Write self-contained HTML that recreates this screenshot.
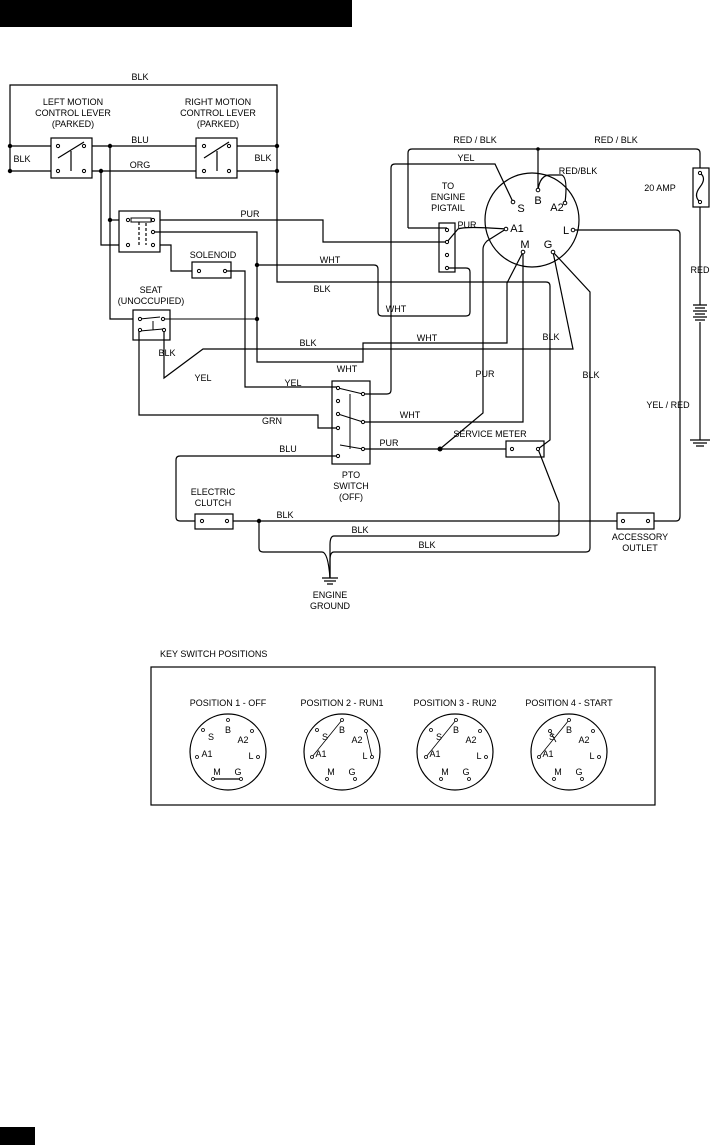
<!DOCTYPE html>
<html><head><meta charset="utf-8"><style>
html,body{margin:0;padding:0;background:#fff}
svg{display:block}
text{font-family:"Liberation Sans",Arial,sans-serif;font-size:9px;fill:#000}
</style></head><body>
<svg width="710" height="1145" viewBox="0 0 710 1145" xmlns="http://www.w3.org/2000/svg">
<rect x="0" y="0" width="352" height="27" fill="#000"/>
<rect x="0" y="1127" width="35" height="18" fill="#000"/>
<g fill="none" stroke="#000" stroke-width="1.2">
<!-- top loop -->
<path d="M10 171 V85 H277 V171"/>
<path d="M10 146 H51 M92 146 H196 M237 146 H277"/>
<path d="M10 171 H51 M92 171 H196 M237 171 H277"/>
<rect x="51" y="138" width="41" height="40"/>
<rect x="196" y="138" width="41" height="40"/>
<path d="M58 158 L84 142 M71 151 V171 M204 158 L229 142 M217 151 V171"/>
<!-- relay -->
<rect x="119" y="211" width="41" height="41"/>
<path d="M110 146 V319 H133"/>
<path d="M101 171 V245 H119 M160 245 H171 V271 H192"/>
<path d="M110 220 H119"/>
<path d="M160 220 H323 V242 H440"/>
<path d="M153 232 H257 V362 H363 V343 H507 V283 L523 252"/>
<path d="M139 245 V220 M146 223 V245" stroke-dasharray="3,2"/>
<rect x="131" y="218" width="20" height="4" stroke-width="1"/>
<!-- solenoid -->
<rect x="192" y="262" width="39" height="16"/>
<path d="M225 271 H245 V387 H338"/>
<path d="M257 265 H374 Q378 265 378 269 V312 Q378 316 382 316 H466 Q470 316 470 312 V272 Q470 268 466 268 H447"/>
<path d="M277 171 V282 H546 Q550 282 550 286 V440 L538 449"/>
<!-- seat -->
<rect x="133" y="310" width="37" height="30"/>
<path d="M163 319 H257 M140 319 L160 317 M153 321 V330 M140 331 L163 329" stroke-width="1"/>
<path d="M139 330 V415 H318 V428 H338"/>
<path d="M164 330 V378 L203 349 H573 L553 252"/>
<!-- key switch -->
<circle cx="532" cy="220" r="47"/>
<path d="M408 228 V153 Q408 149 412 149 H696 Q700 149 700 153 V168"/>
<path d="M538 149 V190 M538 190 Q540 175 550 175 H562 Q568 178 565 203"/>
<path d="M408 228 H447"/>
<path d="M440 242 L447 242 M447 242 L458 229 Q465 226 506 229"/>
<path d="M513 202 L495 164 H395 Q391 164 391 168 V390 Q391 394 387 394 H363"/>
<path d="M506 229 L487 241 Q483 245 483 249 V413 L440 449"/>
<path d="M523 252 V422 H363"/>
<path d="M553 252 L590 292 V548 Q590 552 586 552 H334 Q330 552 330 560 L330 578"/>
<path d="M573 230 H676 Q680 230 680 234 V516 Q680 521 676 521 H654"/>
<path d="M538 449 L559 503 V532 Q559 536 555 536 H334 Q330 536 330 545 V578"/>
<path d="M259 521 V548 Q259 552 263 552 H322 Q328 552 330 578"/>
<path d="M363 449 H506 M440 449 H506"/>
<rect x="506" y="441" width="38" height="16"/>
<rect x="439" y="223" width="16" height="49"/>
<!-- pto -->
<rect x="332" y="381" width="38" height="83"/>
<path d="M338 388 L363 394 M338 414 L363 422 M340 445 L363 449 M350 394 V449" stroke-width="1"/>
<path d="M338 456 H180 Q176 456 176 460 V517 Q176 521 180 521 H195"/>
<rect x="195" y="514" width="38" height="15"/>
<path d="M233 521 H617"/>
<rect x="617" y="513" width="37" height="16"/>
<!-- fuse, battery -->
<rect x="693" y="168" width="16" height="39"/>
<path d="M700 173 Q707 178 700 187 Q693 196 700 202"/>
<path d="M700 207 V305 M700 322 V440 M690 440 H710 M693 443 H707 M696 446 H704"/>
<path d="M322 578 H338 M324 581 H336 M327 584 H333"/>
<path d="M693 305 H707 M695 308 H705 M693 311 H707 M695 314 H705 M693 317 H707 M695 320 H705"/>
<!-- key switch positions -->
<rect x="151" y="667" width="504" height="138"/>
<circle cx="228" cy="752" r="38"/><circle cx="342" cy="752" r="38"/><circle cx="455" cy="752" r="38"/><circle cx="569" cy="752" r="38"/>
<path d="M213 779 H241" stroke-width="1.3"/>
<path d="M312 757 L342 720 M366 731 L372 757 M426 757 L456 720 M539 757 L569 720 M550 731 L556 742" stroke-width="0.8"/>
</g>
<g fill="#000">
<circle cx="10" cy="146" r="2.2"/><circle cx="10" cy="171" r="2.2"/><circle cx="277" cy="146" r="2.2"/><circle cx="277" cy="171" r="2.2"/>
<circle cx="110" cy="146" r="2.2"/><circle cx="101" cy="171" r="2.2"/><circle cx="110" cy="220" r="2.2"/>
<circle cx="257" cy="265" r="2.2"/><circle cx="257" cy="319" r="2.2"/><circle cx="259" cy="521" r="2.2"/><circle cx="440" cy="449" r="2.5"/>
<circle cx="538" cy="149" r="1.8"/>
</g>
<g fill="#fff" stroke="#000" stroke-width="1">
<circle cx="58" cy="146" r="1.6"/><circle cx="84" cy="146" r="1.6"/><circle cx="58" cy="171" r="1.6"/><circle cx="84" cy="171" r="1.6"/>
<circle cx="204" cy="146" r="1.6"/><circle cx="229" cy="146" r="1.6"/><circle cx="204" cy="171" r="1.6"/><circle cx="229" cy="171" r="1.6"/>
<circle cx="128" cy="220" r="1.6"/><circle cx="153" cy="220" r="1.6"/><circle cx="153" cy="232" r="1.6"/><circle cx="128" cy="245" r="1.6"/><circle cx="153" cy="245" r="1.6"/>
<circle cx="199" cy="271" r="1.6"/><circle cx="225" cy="271" r="1.6"/>
<circle cx="140" cy="319" r="1.6"/><circle cx="163" cy="319" r="1.6"/><circle cx="140" cy="330" r="1.6"/><circle cx="164" cy="330" r="1.6"/>
<circle cx="447" cy="230" r="1.6"/><circle cx="447" cy="242" r="1.6"/><circle cx="447" cy="255" r="1.6"/><circle cx="447" cy="268" r="1.6"/>
<circle cx="513" cy="202" r="1.8"/><circle cx="538" cy="190" r="1.8"/><circle cx="565" cy="203" r="1.8"/><circle cx="506" cy="229" r="1.8"/><circle cx="573" cy="230" r="1.8"/><circle cx="523" cy="252" r="1.8"/><circle cx="553" cy="252" r="1.8"/>
<circle cx="338" cy="388" r="1.6"/><circle cx="338" cy="401" r="1.6"/><circle cx="338" cy="414" r="1.6"/><circle cx="338" cy="428" r="1.6"/><circle cx="338" cy="456" r="1.6"/>
<circle cx="363" cy="394" r="1.6"/><circle cx="363" cy="422" r="1.6"/><circle cx="363" cy="449" r="1.6"/>
<circle cx="512" cy="449" r="1.6"/><circle cx="538" cy="449" r="1.6"/>
<circle cx="202" cy="521" r="1.6"/><circle cx="227" cy="521" r="1.6"/><circle cx="623" cy="521" r="1.6"/><circle cx="648" cy="521" r="1.6"/>
<circle cx="700" cy="173" r="1.6"/><circle cx="700" cy="202" r="1.6"/>
</g>
<g fill="#fff" stroke="#000" stroke-width="0.8">
<!-- pos pins -->
<circle cx="228" cy="720" r="1.5"/><circle cx="203" cy="730" r="1.5"/><circle cx="252" cy="731" r="1.5"/><circle cx="197" cy="757" r="1.5"/><circle cx="258" cy="757" r="1.5"/><circle cx="213" cy="779" r="1.5"/><circle cx="241" cy="779" r="1.5"/>
<circle cx="342" cy="720" r="1.5"/><circle cx="317" cy="730" r="1.5"/><circle cx="366" cy="731" r="1.5"/><circle cx="312" cy="757" r="1.5"/><circle cx="372" cy="757" r="1.5"/><circle cx="327" cy="779" r="1.5"/><circle cx="355" cy="779" r="1.5"/>
<circle cx="456" cy="720" r="1.5"/><circle cx="431" cy="730" r="1.5"/><circle cx="480" cy="731" r="1.5"/><circle cx="426" cy="757" r="1.5"/><circle cx="486" cy="757" r="1.5"/><circle cx="441" cy="779" r="1.5"/><circle cx="469" cy="779" r="1.5"/>
<circle cx="569" cy="720" r="1.5"/><circle cx="550" cy="731" r="1.5"/><circle cx="593" cy="731" r="1.5"/><circle cx="539" cy="757" r="1.5"/><circle cx="599" cy="757" r="1.5"/><circle cx="554" cy="779" r="1.5"/><circle cx="582" cy="779" r="1.5"/>
</g>
<g text-anchor="middle">
<text x="140" y="80">BLK</text>
<text x="73" y="105">LEFT MOTION</text><text x="73" y="116">CONTROL LEVER</text><text x="73" y="127">(PARKED)</text>
<text x="218" y="105">RIGHT MOTION</text><text x="218" y="116">CONTROL LEVER</text><text x="218" y="127">(PARKED)</text>
<text x="140" y="143">BLU</text><text x="140" y="168">ORG</text>
<text x="22" y="162">BLK</text><text x="263" y="161">BLK</text>
<text x="250" y="217">PUR</text>
<text x="213" y="258">SOLENOID</text>
<text x="151" y="293">SEAT</text><text x="151" y="304">(UNOCCUPIED)</text>
<text x="330" y="263">WHT</text><text x="322" y="292">BLK</text>
<text x="396" y="312">WHT</text><text x="427" y="341">WHT</text>
<text x="308" y="346">BLK</text><text x="167" y="356">BLK</text><text x="203" y="381">YEL</text>
<text x="347" y="372">WHT</text><text x="293" y="386">YEL</text>
<text x="272" y="424">GRN</text><text x="410" y="418">WHT</text>
<text x="288" y="452">BLU</text><text x="389" y="446">PUR</text>
<text x="351" y="478">PTO</text><text x="351" y="489">SWITCH</text><text x="351" y="500">(OFF)</text>
<text x="213" y="495">ELECTRIC</text><text x="213" y="506">CLUTCH</text>
<text x="285" y="518">BLK</text><text x="360" y="533">BLK</text><text x="427" y="548">BLK</text>
<text x="330" y="598">ENGINE</text><text x="330" y="609">GROUND</text>
<text x="475" y="143">RED / BLK</text><text x="616" y="143">RED / BLK</text>
<text x="466" y="161">YEL</text><text x="578" y="174">RED/BLK</text>
<text x="448" y="189">TO</text><text x="448" y="200">ENGINE</text><text x="448" y="211">PIGTAIL</text>
<text x="467" y="228">PUR</text>
<text x="660" y="191">20 AMP</text><text x="700" y="273">RED</text>
<text x="551" y="340">BLK</text><text x="485" y="377">PUR</text><text x="591" y="378">BLK</text>
<text x="668" y="408">YEL / RED</text>
<text x="490" y="437">SERVICE METER</text>
<text x="640" y="540">ACCESSORY</text><text x="640" y="551">OUTLET</text>
</g>
<g font-size="10" text-anchor="middle">
<text x="521" y="212" style="font-size:11px">S</text><text x="538" y="204" style="font-size:11px">B</text><text x="557" y="211" style="font-size:11px">A2</text>
<text x="517" y="232" style="font-size:11px">A1</text><text x="566" y="234" style="font-size:11px">L</text><text x="525" y="248" style="font-size:11px">M</text><text x="548" y="248" style="font-size:11px">G</text>
</g>
<text x="160" y="657">KEY SWITCH POSITIONS</text>
<g text-anchor="middle">
<text x="228" y="706">POSITION 1 - OFF</text><text x="342" y="706">POSITION 2 - RUN1</text><text x="455" y="706">POSITION 3 - RUN2</text><text x="569" y="706">POSITION 4 - START</text>
</g>
<g font-size="9" text-anchor="middle">
<g transform="translate(0,0)"><text x="228" y="733">B</text><text x="211" y="740">S</text><text x="243" y="743">A2</text><text x="207" y="757">A1</text><text x="251" y="759">L</text><text x="217" y="775">M</text><text x="238" y="775">G</text></g>
<g transform="translate(114,0)"><text x="228" y="733">B</text><text x="211" y="740">S</text><text x="243" y="743">A2</text><text x="207" y="757">A1</text><text x="251" y="759">L</text><text x="217" y="775">M</text><text x="238" y="775">G</text></g>
<g transform="translate(228,0)"><text x="228" y="733">B</text><text x="211" y="740">S</text><text x="243" y="743">A2</text><text x="207" y="757">A1</text><text x="251" y="759">L</text><text x="217" y="775">M</text><text x="238" y="775">G</text></g>
<g transform="translate(341,0)"><text x="228" y="733">B</text><text x="211" y="740">S</text><text x="243" y="743">A2</text><text x="207" y="757">A1</text><text x="251" y="759">L</text><text x="217" y="775">M</text><text x="238" y="775">G</text></g>
</g>
</svg>
</body></html>
